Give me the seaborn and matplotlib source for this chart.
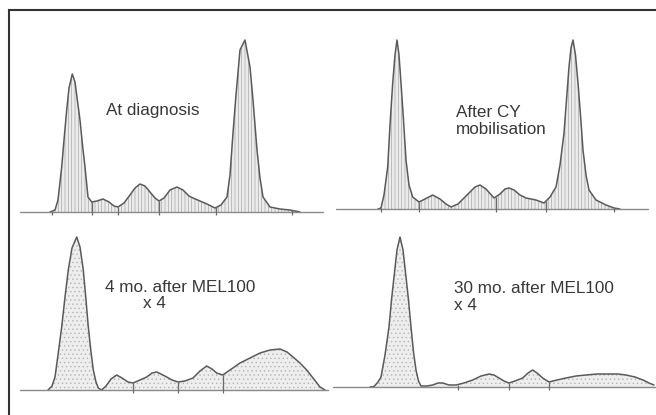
"""
Densitometry traces of serum protein electrophoresis at four time points.
"""
import numpy as np
import pandas as pd
import matplotlib
matplotlib.use("Agg")
import matplotlib.pyplot as plt
import seaborn as sns

# ---- Data (mobility, relative height) ----
diag_mob = [30, 35, 38, 41.7, 44, 46.7, 49, 52.3, 55, 58, 60, 62.5, 65, 68, 71.7, 77, 83, 89, 94, 98,
            104, 110, 115, 120, 125, 130, 135, 139, 144, 150, 157, 163, 169, 173, 180, 187, 195, 201, 207, 210,
            213, 216, 220, 225, 230, 233, 237, 240, 243, 250, 260, 270, 280]
diag_h = [0, 2, 12, 45, 72, 102, 124, 138, 130, 107, 92, 67, 45, 15, 10, 11, 13, 10, 6, 5,
          9, 17, 24, 28, 26, 20, 14, 11, 14, 22, 25, 22, 16, 14, 11, 8, 4, 7, 15, 37,
          79, 117, 162, 172, 145, 112, 62, 34, 15, 5, 3, 2, 0]
diag_sep = [32, 72, 98, 139, 196, 272]

cy_mob = [45, 48, 51, 54.7, 57, 59.7, 62, 64, 66, 68, 70.5, 73, 76, 79.7, 86, 92, 99.7, 107, 113, 118,
          125, 131, 136, 142, 147, 153, 161, 167, 172, 176, 181, 187, 193, 203, 211, 217, 223, 227, 231, 233.5,
          236, 238, 240, 242.5, 245, 247.5, 250, 253, 256, 263, 273, 281, 287]
cy_h = [0, 1, 14, 42, 84, 126, 154, 169, 154, 126, 89, 49, 24, 12, 7, 10, 14, 10, 5, 2,
        5, 11, 16, 22, 24, 20, 11, 15, 20, 21, 19, 14, 11, 9, 6, 12, 22, 44, 76, 109,
        142, 161, 169, 154, 126, 94, 59, 34, 19, 9, 4, 1, 0]
cy_sep = [48, 86, 163, 213, 281]

m4_mob = [28, 32, 35, 38, 41.7, 45, 48.3, 52, 56.7, 60, 63.3, 66, 68.3, 71, 73.3, 76, 78.3, 81.7, 86, 91,
          96.7, 102, 108, 113, 120, 126.7, 132, 136.7, 141, 146.7, 152, 158, 165, 173, 180, 186.7, 192, 196.7, 202.7, 210,
          220, 230, 240, 250, 260, 267, 273, 280, 286.7, 293, 300, 305]
m4_h = [0, 4, 13, 35, 63, 93, 120, 142, 153, 143, 120, 90, 63, 38, 20, 8, 2, 0, 4, 11,
        15, 12, 8, 7, 10, 13, 17, 18, 16, 13, 10, 8, 9, 12, 19, 24, 21, 17, 15, 20,
        27, 32, 37, 40, 41, 38, 33, 27, 20, 12, 3, 0]
m4_sep = [113, 158, 203]

m30_mob = [38, 42, 46, 49, 53, 57, 59.5, 62, 65, 68, 71, 74, 76.5, 79, 81.5, 84, 86.5, 89, 95, 100.7,
           106, 110.7, 117, 124, 132, 140.7, 149, 157, 162, 167, 172, 177, 183, 190.7, 196, 200.7, 205, 210.7, 217, 225,
           234, 244, 254, 265, 277, 286, 294, 303, 311, 317, 322]
m30_h = [0, 0.5, 5, 10, 32, 60, 87, 110, 137, 150, 137, 110, 87, 60, 35, 17, 6, 1, 1, 2,
         4, 4, 2, 2, 4, 7, 11, 13, 12, 9, 6, 4, 6, 9, 14, 17, 14, 9, 5, 7,
         9, 11, 12, 13, 13, 13, 12, 10, 7, 4, 2]
m30_sep = [126, 177, 217]

# annotation text and its pixel position (left x, centre y)
label_text = ["At diagnosis", "After CY\nmobilisation", "4 mo. after MEL100", "x 4",
              "30 mo. after MEL100\nx 4"]
label_x = [106, 456, 105, 143, 454]
label_y = [110, 121, 287, 303, 297]

W, H = 656, 415

# panel layout in pixels: left, baseline y, top y, xlim, hatch
panels = [
    dict(mob=diag_mob, h=diag_h, sep=diag_sep, L=20, B=212, T=35, xlim=(0, 303),
         hatch="|||||", face="#ececec", hc="#a8a8a8"),
    dict(mob=cy_mob, h=cy_h, sep=cy_sep, L=333, B=209, T=35, xlim=(3, 315),
         hatch="|||||", face="#ececec", hc="#a8a8a8"),
    dict(mob=m4_mob, h=m4_h, sep=m4_sep, L=20, B=390, T=225, xlim=(0, 308),
         hatch="....", face="#eeeeee", hc="#b5b5b5"),
    dict(mob=m30_mob, h=m30_h, sep=m30_sep, L=332, B=387, T=225, xlim=(1, 324),
         hatch="....", face="#eeeeee", hc="#b5b5b5"),
]

sns.set_style("white")
plt.rcParams["font.family"] = ["Liberation Sans", "DejaVu Sans"]
plt.rcParams["hatch.linewidth"] = 0.5

fig = plt.figure(figsize=(W / 100, H / 100), dpi=100)

# frame: only left and top edges visible in the scan
frame = fig.add_axes([8.5 / W, 0, 1 - 8.5 / W, 1 - 10 / H])
frame.set_xticks([])
frame.set_yticks([])
for side in ("right", "bottom"):
    frame.spines[side].set_visible(False)
for side in ("left", "top"):
    frame.spines[side].set_color("#333333")
    frame.spines[side].set_linewidth(1.5)
frame.patch.set_alpha(0)

for p in panels:
    x0, x1 = p["xlim"]
    ax = fig.add_axes([(p["L"] + x0) / W, 1 - p["B"] / H, (x1 - x0) / W, (p["B"] - p["T"]) / H])
    ax.set_xlim(x0, x1)
    ax.set_ylim(0, p["B"] - p["T"])
    ax.axis("off")
    ax.patch.set_alpha(0)

    df = pd.DataFrame({"mobility": p["mob"], "height": p["h"]})
    ax.fill_between(df["mobility"], 0, df["height"], facecolor=p["face"],
                    edgecolor=p["hc"], hatch=p["hatch"], linewidth=0)
    sns.lineplot(data=df, x="mobility", y="height", ax=ax, color="#5a5a5a",
                 linewidth=1.1, sort=False, legend=False)
    ax.axhline(0, color="#8a8a8a", linewidth=1.0, clip_on=False)

    sep_h = np.interp(p["sep"], p["mob"], p["h"])
    ax.vlines(p["sep"], -3, sep_h, color="#6a6a6a", linewidth=0.9, clip_on=False)

for txt, lx, ly in zip(label_text, label_x, label_y):
    fig.text(lx / W, 1 - ly / H, txt, ha="left", va="center", fontsize=12.3,
             color="#383838", linespacing=1.1)

fig.savefig("out.png", dpi=100)
